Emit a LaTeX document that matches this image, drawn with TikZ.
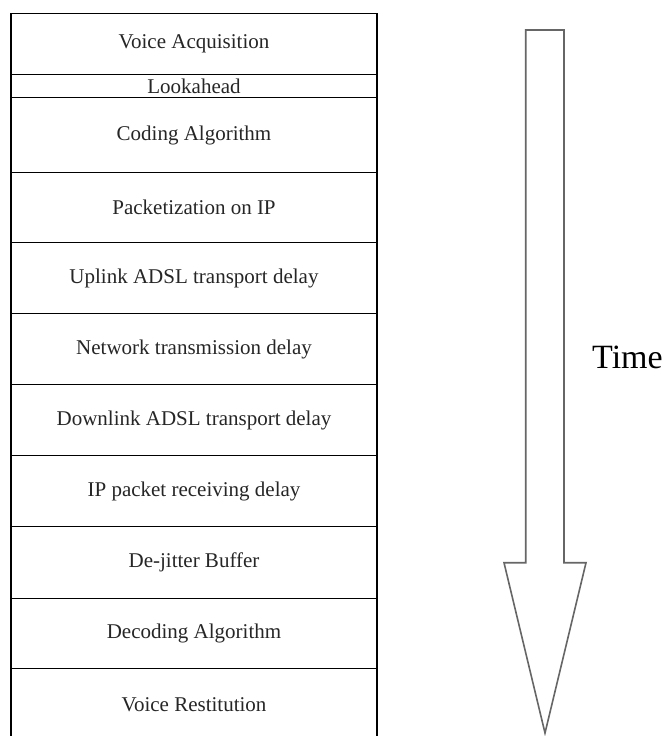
\documentclass[tikz,border=0pt]{standalone}
\usepackage{fontspec}
\setmainfont{Liberation Serif}
\begin{document}
\begin{tikzpicture}[x=1pt,y=-1pt,
  stagebox/.style={draw=black, line width=1.4pt, minimum width=366pt, inner sep=0pt,
    anchor=north, font=\fontsize{21}{23}\selectfont, text=black!85},
  arrowline/.style={draw=black!60, line width=1.6pt, line join=miter}]
\clip (0,0) rectangle (669,736);
\fill[white] (0,0) rectangle (669,736);
\node[stagebox, minimum height=61pt] (s1) at (194,13) {Voice Acquisition};
\node[stagebox, minimum height=23pt] (s2) at (194,74) {Lookahead};
\node[stagebox, minimum height=75pt] (s3) at (194,97) {Coding Algorithm};
\node[stagebox, minimum height=70pt] (s4) at (194,172) {Packetization on IP};
\node[stagebox, minimum height=71pt] (s5) at (194,242) {Uplink ADSL transport delay};
\node[stagebox, minimum height=71pt] (s6) at (194,313) {Network transmission delay};
\node[stagebox, minimum height=71pt] (s7) at (194,384) {Downlink ADSL transport delay};
\node[stagebox, minimum height=71pt] (s8) at (194,455) {IP packet receiving delay};
\node[stagebox, minimum height=72pt] (s9) at (194,526) {De-jitter Buffer};
\node[stagebox, minimum height=70pt] (s10) at (194,598) {Decoding Algorithm};
\node[stagebox, minimum height=72pt] (s11) at (194,668) {Voice Restitution};
\draw[arrowline] (525.7,30) -- (564,30) -- (564,562.7) -- (586,562.7) -- (545,733)
  -- (504,562.7) -- (525.7,562.7) -- cycle;
\node[font=\fontsize{34}{38}\selectfont, anchor=west, inner sep=0pt] (time) at (592,357) {Time};
\end{tikzpicture}
\end{document}
